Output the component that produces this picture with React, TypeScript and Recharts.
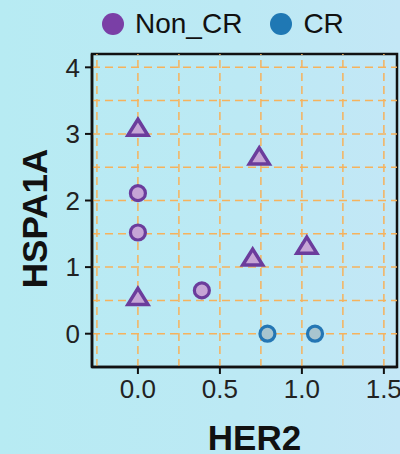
import React from 'react';
import {
  ScatterChart,
  Scatter,
  XAxis,
  YAxis,
  ReferenceLine,
  ReferenceArea,
} from 'recharts';

// values
const nonCrCircleX = [0, 0, 0.39];
const nonCrCircleY = [2.11, 1.52, 0.65];
const nonCrTriangleX = [0, 0.74, 1.03, 0.7, 0];
const nonCrTriangleY = [3.1, 2.67, 1.33, 1.15, 0.56];
const crCircleX = [0.79, 1.08];
const crCircleY = [0, 0];

const xTicks = [0, 0.5, 1.0, 1.5];
const yTicks = [0, 1, 2, 3, 4];
const xGrid = [-0.25, 0, 0.25, 0.5, 0.75, 1.0, 1.25, 1.5];
const yGrid = [0, 0.5, 1, 1.5, 2, 2.5, 3, 3.5, 4];
const xDomain = [-0.28, 1.58];
const yDomain = [-0.5, 4.2];

const groups = [
  { name: 'Non_CR', color: '#7a3fa6' },
  { name: 'CR', color: '#1f78b4' },
];

const toPoints = (xs: number[], ys: number[]) => xs.map((x, i) => ({ x, y: ys[i] }));

const PURPLE_STROKE = '#6b3c9c';
const PURPLE_FILL = '#c6a5d6';
const BLUE_STROKE = '#2476b4';
const BLUE_FILL = '#a8c5cf';
const FONT = '"Liberation Sans", Arial, sans-serif';

function circleShape(stroke: string, fill: string) {
  return (props: any) => (
    <circle cx={props.cx} cy={props.cy} r={7.5} fill={fill} stroke={stroke} strokeWidth={3.2} />
  );
}

function triangleShape(stroke: string, fill: string) {
  return (props: any) => {
    const { cx, cy } = props;
    const w = 20;
    const h = 16;
    const d = `M${cx},${cy - h / 2} L${cx + w / 2},${cy + h / 2} L${cx - w / 2},${cy + h / 2} Z`;
    return <path d={d} fill={fill} stroke={stroke} strokeWidth={3.5} strokeLinejoin="miter" />;
  };
}

function YLabel(props: any) {
  const vb = props.viewBox;
  const x = vb.x + 47;
  const y = vb.y + vb.height / 2 + 8;
  return (
    <text
      x={x}
      y={y}
      transform={`rotate(-90 ${x} ${y})`}
      textAnchor="middle"
      fontFamily={FONT}
      fontWeight="bold"
      fontSize={35}
      fill="#111"
    >
      HSPA1A
    </text>
  );
}

function XLabel(props: any) {
  const vb = props.viewBox;
  const x = vb.x + vb.width / 2 + 10;
  const y = vb.y + vb.height - 4;
  return (
    <text x={x} y={y} textAnchor="middle" fontFamily={FONT} fontWeight="bold" fontSize={35} fill="#111">
      HER2
    </text>
  );
}

export default function App() {
  const tickStyle = { fill: '#222', fontSize: 26, fontFamily: FONT };
  return (
    <div
      style={{
        position: 'absolute',
        left: 0,
        top: 0,
        width: 400,
        height: 454,
        background: 'linear-gradient(90deg, #b7ebf3 0%, #bce9f4 60%, #c3e7f6 100%)',
      }}
    >
      <div
        style={{
          position: 'absolute',
          top: 10,
          left: 102,
          height: 28,
          display: 'flex',
          fontFamily: FONT,
          fontSize: 28,
          lineHeight: '28px',
          color: '#111',
        }}
      >
        {groups.map((g, i) => (
          <div key={g.name} style={{ display: 'flex', alignItems: 'center', marginLeft: i === 0 ? 0 : 28 }}>
            <span
              style={{
                display: 'inline-block',
                width: 22,
                height: 22,
                borderRadius: '50%',
                background: g.color,
                marginRight: 11,
              }}
            />
            <span>{g.name}</span>
          </div>
        ))}
      </div>
      <ScatterChart width={400} height={454} margin={{ top: 54, right: 3, bottom: 0, left: 0 }}>
        {xGrid.map((v) => (
          <ReferenceLine
            key={`gx-${v}`}
            x={v}
            stroke="#f6b25c"
            strokeWidth={1.5}
            strokeDasharray="8 5"
          />
        ))}
        {yGrid.map((v) => (
          <ReferenceLine
            key={`gy-${v}`}
            y={v}
            stroke="#f6b25c"
            strokeWidth={1.5}
            strokeDasharray="8 5"
          />
        ))}
        <ReferenceArea
          x1={xDomain[0]}
          x2={xDomain[1]}
          y1={yDomain[0]}
          y2={yDomain[1]}
          fill="none"
          fillOpacity={0}
          stroke="#111"
          strokeWidth={2.5}
        />
        <XAxis
          type="number"
          dataKey="x"
          domain={xDomain}
          ticks={xTicks}
          tickFormatter={(v: number) => v.toFixed(1)}
          height={87}
          axisLine={{ stroke: '#111', strokeWidth: 2.5 }}
          tickLine={{ stroke: '#111', strokeWidth: 2 }}
          tickSize={7}
          tickMargin={6}
          tick={tickStyle}
          allowDataOverflow
          label={<XLabel />}
        />
        <YAxis
          type="number"
          dataKey="y"
          domain={yDomain}
          ticks={yTicks}
          width={92}
          axisLine={{ stroke: '#111', strokeWidth: 2.5 }}
          tickLine={{ stroke: '#111', strokeWidth: 2 }}
          tickSize={7}
          tickMargin={5}
          tick={tickStyle}
          allowDataOverflow
          label={<YLabel />}
        />
        <Scatter
          name="Non_CR"
          data={toPoints(nonCrCircleX, nonCrCircleY)}
          shape={circleShape(PURPLE_STROKE, PURPLE_FILL)}
          isAnimationActive={false}
        />
        <Scatter
          name="Non_CR triangles"
          data={toPoints(nonCrTriangleX, nonCrTriangleY)}
          shape={triangleShape(PURPLE_STROKE, PURPLE_FILL)}
          isAnimationActive={false}
        />
        <Scatter
          name="CR"
          data={toPoints(crCircleX, crCircleY)}
          shape={circleShape(BLUE_STROKE, BLUE_FILL)}
          isAnimationActive={false}
        />
      </ScatterChart>
    </div>
  );
}
